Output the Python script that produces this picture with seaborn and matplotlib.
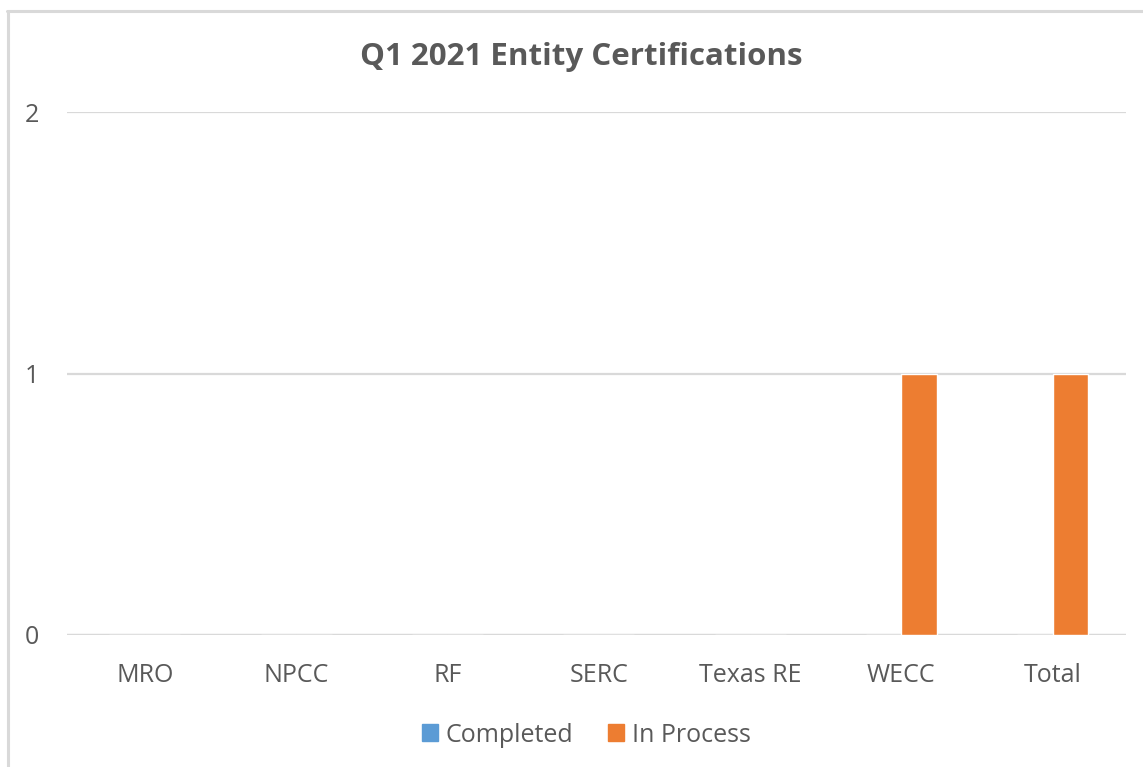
import matplotlib
matplotlib.use("Agg")
import matplotlib.pyplot as plt
from matplotlib.lines import Line2D
from matplotlib.patches import Patch
import seaborn as sns
import pandas as pd

categories = ["MRO", "NPCC", "RF", "SERC", "Texas RE", "WECC", "Total"]
completed = [0, 0, 0, 0, 0, 0, 0]
in_process = [0, 0, 0, 0, 0, 1, 1]
series_names = ["Completed", "In Process"]
colors = ["#5B9BD5", "#ED7D31"]
yticks = [0, 1, 2]
title = "Q1 2021 Entity Certifications"

df = pd.DataFrame({
    "Region": categories * 2,
    "Status": [series_names[0]] * len(categories) + [series_names[1]] * len(categories),
    "Count": completed + in_process,
})

sns.set_theme(style="white")
plt.rcParams["font.family"] = ["Open Sans", "DejaVu Sans"]

text_color = "#595959"
grid_color = "#D9D9D9"

fig = plt.figure(figsize=(11.43, 7.67), dpi=100)
ax = fig.add_axes([67 / 1143, 1 - 635 / 767, (1126 - 67) / 1143, (635 - 112) / 767])

sns.barplot(data=df, x="Region", y="Count", hue="Status", order=categories,
            hue_order=series_names, palette=colors, width=0.47, ax=ax,
            saturation=1, legend=False, errorbar=None)

ax.set_ylim(0, 2)
ax.set_xlim(-0.515, len(categories) - 0.515)
ax.set_yticks(yticks)
ax.set_yticklabels([str(t) for t in yticks])
ax.set_xlabel("")
ax.set_ylabel("")
ax.yaxis.grid(True, color=grid_color, linewidth=1.6)
ax.set_axisbelow(True)
for s in ["top", "right", "left", "bottom"]:
    ax.spines[s].set_visible(False)
ax.axhline(0, color=grid_color, linewidth=1.6, zorder=0.5)
ax.tick_params(axis="x", length=0, pad=20, labelsize=18, labelcolor=text_color)
ax.tick_params(axis="y", length=0, pad=20, labelsize=18, labelcolor=text_color)

fig.text(0.509, 1 - 57 / 767, title, ha="center", va="center",
         fontsize=22.5, fontweight="bold", color=text_color)

handles = [Patch(facecolor=c, edgecolor=c) for c in colors]
fig.legend(handles, series_names, loc="center", bbox_to_anchor=(0.513, 1 - 735 / 767),
           ncol=2, frameon=False, fontsize=18, labelcolor=text_color,
           handlelength=0.65, handleheight=0.65, handletextpad=0.3, columnspacing=1.4)

# chart border (top and left edges visible in reference)
fig.add_artist(Line2D([7 / 1143, 1], [1 - 11 / 767, 1 - 11 / 767], transform=fig.transFigure,
                      color=grid_color, linewidth=2.2))
fig.add_artist(Line2D([8 / 1143, 8 / 1143], [0, 1 - 11 / 767], transform=fig.transFigure,
                      color=grid_color, linewidth=2.2))

fig.savefig("out.png", dpi=100, facecolor="white")
